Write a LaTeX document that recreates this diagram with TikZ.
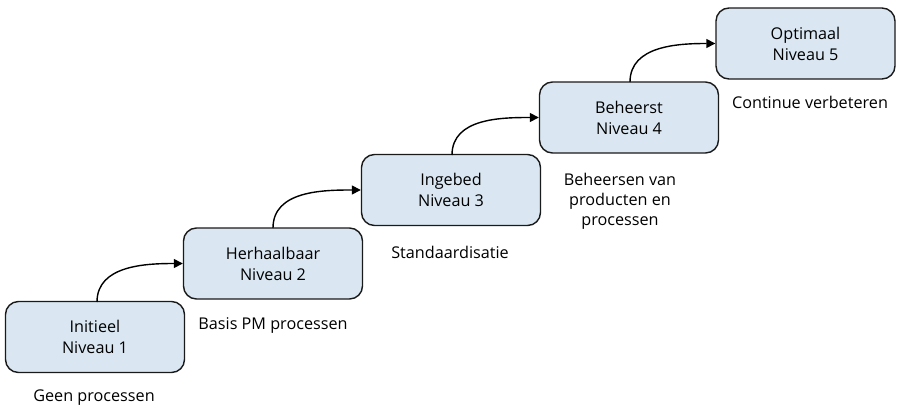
\documentclass[tikz,border=0pt]{standalone}
\usepackage{fontspec}
\setmainfont{Open Sans}
\usetikzlibrary{arrows.meta}
\definecolor{boxfill}{HTML}{DAE7F2}
\definecolor{boxline}{HTML}{1A1A1A}
\begin{document}
\begin{tikzpicture}[x=1pt,y=-1pt,
  level/.style={draw=boxline, line width=1.4pt, fill=boxfill, rounded corners=13pt,
    minimum width=179pt, minimum height=71pt, align=center, font=\fontsize{16.2}{21}\selectfont, inner sep=0pt},
  note/.style={align=center, font=\fontsize{16.2}{20}\selectfont, inner sep=0pt},
  conn/.style={line width=1.4pt, -{Triangle[length=9pt,width=9pt]}}]
\useasboundingbox (0,0) rectangle (899,407);
\node[level] (n1) at (95,337) {Initieel\\Niveau 1};
\node[level] (n2) at (273,263.5) {Herhaalbaar\\Niveau 2};
\node[level] (n3) at (451,190) {Ingebed\\Niveau 3};
\node[level] (n4) at (629,117.5) {Beheerst\\Niveau 4};
\node[level] (n5) at (805.5,43.5) {Optimaal\\Niveau 5};
\node[note] (l1) at (94,398) {Geen processen};
\node[note] (l2) at (273,325) {Basis PM processen};
\node[note] (l3) at (450,252) {Standaardisatie};
\node[note] (l4) at (620,201) {Beheersen van\\producten en\\processen};
\node[note] (l5) at (810,102) {Continue verbeteren};
\coordinate (s1) at (97,302);
\coordinate (s2) at (273,228);
\coordinate (s3) at (452,155);
\coordinate (s4) at (630,82);
\draw[conn] (s1) to[out=90,in=180] (n2.west);
\draw[conn] (s2) to[out=90,in=180] (n3.west);
\draw[conn] (s3) to[out=90,in=180] (n4.west);
\draw[conn] (s4) to[out=90,in=180] (n5.west);
\end{tikzpicture}
\end{document}
